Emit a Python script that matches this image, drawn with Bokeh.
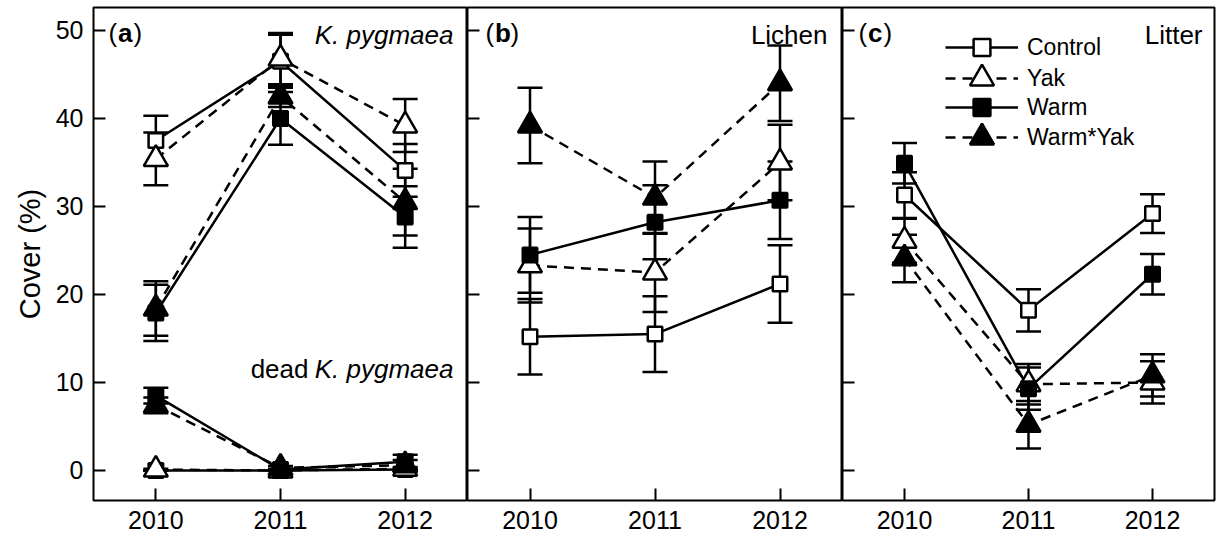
from bokeh.plotting import figure
from bokeh.layouts import row
from bokeh.models import (ColumnDataSource, Whisker, TeeHead, FixedTicker, Label,
                          Legend, LegendItem, Range1d, CustomJSTickFormatter)
from bokeh.embed import file_html
from bokeh.resources import INLINE

FONT = "Liberation Sans"

years = [2010, 2011, 2012]
treatments = ["Control", "Yak", "Warm", "Warm*Yak"]
y_ticks = [0, 10, 20, 30, 40, 50]

# Panel (a): K. pygmaea (live)
kp_control = [37.5, 46.5, 34.1]
kp_control_se = [2.8, 3.0, 3.0]
kp_yak = [35.4, 46.8, 39.2]
kp_yak_se = [3.0, 2.9, 3.0]
kp_warm = [17.9, 40.0, 28.8]
kp_warm_se = [3.2, 3.0, 3.5]
kp_warmyak = [18.4, 42.5, 30.5]
kp_warmyak_se = [3.1, 1.2, 3.8]

# Panel (a): dead K. pygmaea
dead_control = [0.0, 0.0, 0.1]
dead_control_se = [0.0, 0.0, 0.1]
dead_yak = [0.1, 0.0, 0.2]
dead_yak_se = [0.1, 0.0, 0.2]
dead_warm = [8.5, 0.1, 1.0]
dead_warm_se = [0.9, 0.1, 0.8]
dead_warmyak = [7.4, 0.3, 0.6]
dead_warmyak_se = [0.9, 0.2, 0.6]

# Panel (b): Lichen
li_control = [15.2, 15.5, 21.2]
li_control_se = [4.3, 4.3, 4.4]
li_yak = [23.3, 22.5, 35.0]
li_yak_se = [4.2, 4.5, 4.3]
li_warm = [24.5, 28.2, 30.7]
li_warm_se = [4.3, 4.2, 4.4]
li_warmyak = [39.2, 31.0, 44.0]
li_warmyak_se = [4.3, 4.1, 4.3]

# Panel (c): Litter
lt_control = [31.3, 18.2, 29.2]
lt_control_se = [2.6, 2.4, 2.2]
lt_yak = [26.1, 9.8, 10.0]
lt_yak_se = [2.5, 2.3, 2.4]
lt_warm = [34.9, 9.3, 22.3]
lt_warm_se = [2.3, 2.4, 2.3]
lt_warmyak = [24.1, 5.2, 10.8]
lt_warmyak_se = [2.7, 2.7, 2.4]

STYLE = {
    "Control": dict(marker="square", fill="white", dash="solid", size=14.5),
    "Yak": dict(marker="triangle", fill="white", dash="10 7", size=24),
    "Warm": dict(marker="square", fill="black", dash="solid", size=14.5),
    "Warm*Yak": dict(marker="triangle", fill="black", dash="10 7", size=24),
}

Y0, Y1 = -3.41, 52.61
FRAME_H = 493


def make_fig(frame_w, left, right, show_labels):
    p = figure(frame_width=frame_w, frame_height=FRAME_H,
               x_range=Range1d(2009.5, 2012.5), y_range=Range1d(Y0, Y1),
               output_backend="svg", toolbar_location=None,
               min_border_left=left, min_border_right=right,
               min_border_top=7, min_border_bottom=40)
    p.outline_line_color = "black"
    p.outline_line_width = 2
    p.xgrid.grid_line_color = None
    p.ygrid.grid_line_color = None
    p.background_fill_color = "white"
    p.border_fill_color = "white"
    for ax in (p.xaxis[0], p.yaxis[0]):
        ax.axis_line_color = None
        ax.major_tick_in = 12
        ax.major_tick_out = 0
        ax.major_tick_line_width = 2
        ax.major_tick_line_color = "black"
        ax.minor_tick_line_color = None
        ax.major_label_text_font = FONT
        ax.major_label_text_font_size = "25px"
        ax.major_label_text_color = "black"
    p.xaxis.ticker = FixedTicker(ticks=years)
    p.xaxis.major_label_standoff = 10
    p.yaxis.ticker = FixedTicker(ticks=y_ticks)
    if show_labels:
        p.yaxis.major_label_standoff = 10
        p.yaxis.axis_label = "Cover (%)"
        p.yaxis.axis_label_text_font = FONT
        p.yaxis.axis_label_text_font_style = "normal"
        p.yaxis.axis_label_text_font_size = "29px"
        p.yaxis.axis_label_standoff = 7
        p.yaxis.axis_label_text_color = "black"
    else:
        p.yaxis.major_label_standoff = 0
        p.yaxis.formatter = CustomJSTickFormatter(code="return ''")
    return p


def draw_group(p, groups):
    """groups: list of (treatment, means, ses). Draw whiskers, lines, then markers."""
    lines, marks = {}, {}
    for t, m, s in groups:
        src = ColumnDataSource(dict(x=years,
                                    upper=[a + b for a, b in zip(m, s)],
                                    lower=[a - b for a, b in zip(m, s)]))
        w = Whisker(base="x", upper="upper", lower="lower", source=src,
                    line_width=2.5, line_color="black",
                    upper_head=TeeHead(size=25, line_width=2.5, line_color="black"),
                    lower_head=TeeHead(size=25, line_width=2.5, line_color="black"))
        p.add_layout(w)
    for t, m, s in groups:
        st = STYLE[t]
        lines[t] = p.line(years, m, line_color="black", line_width=2.5,
                          line_dash=st["dash"])
    for t, m, s in groups:
        st = STYLE[t]
        marks[t] = p.scatter(years, m, marker=st["marker"], size=st["size"],
                             fill_color=st["fill"], line_color="black",
                             line_width=2.5)
    return lines, marks


def add_text(p, x, y, text, x_offset=0, align="left", style="normal", size="26px"):
    p.add_layout(Label(x=x, y=y, x_offset=x_offset, text=text, text_font=FONT,
                       text_font_size=size, text_font_style=style,
                       text_align=align, text_baseline="alphabetic",
                       text_color="black"))


def panel_letter(p, letter, off):
    add_text(p, 2009.5, 49.72, "(", x_offset=off)
    add_text(p, 2009.5, 49.72, letter, x_offset=off + 9.5, style="bold")
    add_text(p, 2009.5, 49.72, ")", x_offset=off + 9.5 + 15.5)


pa = make_fig(374, 93, 0, True)
pb = make_fig(375, 0, 0, False)
pc = make_fig(372, 0, 2, False)

draw_group(pa, [("Control", kp_control, kp_control_se),
                ("Yak", kp_yak, kp_yak_se),
                ("Warm", kp_warm, kp_warm_se),
                ("Warm*Yak", kp_warmyak, kp_warmyak_se)])
draw_group(pa, [("Control", dead_control, dead_control_se),
                ("Yak", dead_yak, dead_yak_se),
                ("Warm", dead_warm, dead_warm_se),
                ("Warm*Yak", dead_warmyak, dead_warmyak_se)])
draw_group(pb, [("Control", li_control, li_control_se),
                ("Yak", li_yak, li_yak_se),
                ("Warm", li_warm, li_warm_se),
                ("Warm*Yak", li_warmyak, li_warmyak_se)])
lines_c, marks_c = draw_group(pc, [("Control", lt_control, lt_control_se),
                                   ("Yak", lt_yak, lt_yak_se),
                                   ("Warm", lt_warm, lt_warm_se),
                                   ("Warm*Yak", lt_warmyak, lt_warmyak_se)])

panel_letter(pa, "a", 15)
panel_letter(pb, "b", 18)
panel_letter(pc, "c", 16)

add_text(pa, 2012.5, 49.43, "K. pygmaea", x_offset=-14, align="right", style="italic")
add_text(pa, 2012.5, 11.48, "K. pygmaea", x_offset=-14, align="right", style="italic")
add_text(pa, 2012.5, 11.48, "dead", x_offset=-159, align="right")
add_text(pb, 2012.5, 49.43, "Lichen", x_offset=-15, align="right")
add_text(pc, 2012.5, 49.43, "Litter", x_offset=-12, align="right")

# one single-item legend per row; triangle rows get a taller glyph box so that
# their legend marker is as large as in the original
row_centers = [47, 78, 107, 137]
for t, c in zip(treatments, row_centers):
    gh = 60 if STYLE[t]["marker"] == "triangle" else 42
    lg = Legend(items=[LegendItem(label=t, renderers=[lines_c[t], marks_c[t]])],
                location=(103, 500 - c - gh / 2), glyph_width=73, glyph_height=gh,
                label_standoff=9, padding=0, margin=0,
                background_fill_alpha=0, border_line_alpha=0,
                label_text_font=FONT, label_text_font_size="23px",
                label_text_color="black")
    pc.add_layout(lg)

layout = row(pa, pb, pc, spacing=0)
open("out.html", "w").write(file_html(layout, INLINE))
